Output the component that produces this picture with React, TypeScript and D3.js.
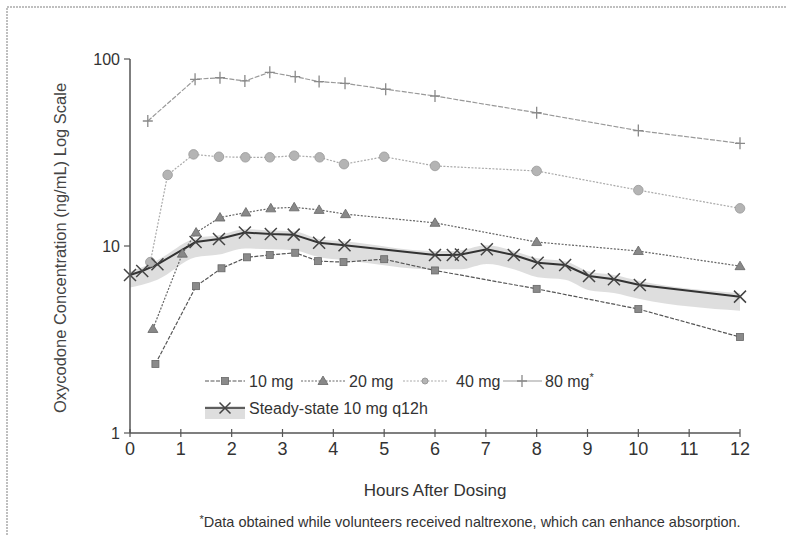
import React from "react";
import * as d3 from "d3";

const hours10 = [0.5, 1.3, 1.8, 2.3, 2.75, 3.25, 3.7, 4.2, 5, 6, 8, 10, 12];
const mg10 = [2.34, 6.1, 7.6, 8.7, 8.95, 9.2, 8.3, 8.2, 8.5, 7.4, 5.9, 4.6, 3.26];

const hours20 = [0.45, 1.03, 1.3, 1.77, 2.28, 2.77, 3.23, 3.72, 4.24, 6, 8, 10, 12];
const mg20 = [3.6, 9.1, 11.8, 14.2, 15.1, 15.9, 16.1, 15.6, 14.8, 13.3, 10.5, 9.4, 7.8];

const hours40 = [0.4, 0.74, 1.25, 1.75, 2.27, 2.75, 3.23, 3.73, 4.21, 5, 6, 8, 10, 12];
const mg40 = [8.2, 24.0, 30.9, 30.0, 29.8, 29.8, 30.4, 29.8, 27.4, 30.0, 26.8, 25.2, 19.9, 15.9];

const hours80 = [0.35, 1.28, 1.77, 2.26, 2.75, 3.25, 3.72, 4.23, 5.03, 6, 8, 10, 12];
const mg80 = [46.6, 77.9, 79.4, 76.3, 84.9, 80.4, 75.7, 74.1, 68.9, 63.4, 51.6, 41.4, 35.4];

const hoursSS = [0, 0.24, 0.54, 1.29, 1.75, 2.26, 2.77, 3.22, 3.72, 4.22, 6, 6.35, 6.51, 7.02, 7.55, 8.02, 8.56, 9.03, 9.52, 10.03, 12];
const ssMean = [7.0, 7.35, 7.98, 10.5, 10.9, 11.8, 11.6, 11.5, 10.4, 10.1, 8.95, 8.95, 9.0, 9.6, 8.95, 8.14, 7.91, 6.91, 6.64, 6.19, 5.36];
const ssHigh = [7.3, 7.7, 8.4, 11.0, 11.4, 12.3, 12.1, 12.0, 10.9, 10.6, 9.4, 9.4, 9.5, 10.1, 9.4, 8.6, 8.3, 7.3, 7.0, 6.5, 5.6];
const ssLow = [6.0, 6.2, 6.6, 8.7, 9.0, 9.7, 9.6, 9.5, 8.7, 8.4, 7.5, 7.5, 7.5, 8.0, 7.5, 6.8, 6.6, 5.8, 5.6, 5.2, 4.5];

const xTicks = [0, 1, 2, 3, 4, 5, 6, 7, 8, 9, 10, 11, 12];
const yTicks = [1, 10, 100];

const FONT = "'Liberation Sans', Arial, sans-serif";

type Pt = [number, number];

function zip(h: number[], v: number[]): Pt[] {
  return h.map((t, i) => [t, v[i]]);
}

export default function App() {
  const x = d3.scaleLinear().domain([0, 12]).range([130, 740]);
  const y = d3.scaleLog().domain([1, 100]).range([433, 59]);

  const line = d3
    .line<Pt>()
    .x((d) => x(d[0]))
    .y((d) => y(d[1]));

  const band = d3
    .area<number>()
    .x((_, i) => x(hoursSS[i]))
    .y0((_, i) => y(ssLow[i]))
    .y1((_, i) => y(ssHigh[i]))
    .curve(d3.curveMonotoneX);

  const d10 = zip(hours10, mg10);
  const d20 = zip(hours20, mg20);
  const d40 = zip(hours40, mg40);
  const d80 = zip(hours80, mg80);
  const dSS = zip(hoursSS, ssMean);

  const square = (cx: number, cy: number, k: string, fill = "#8a8a8a") => (
    <rect key={k} x={cx - 3.5} y={cy - 3.5} width={7} height={7} fill={fill} stroke="#666" strokeWidth={0.8} />
  );
  const tri = (cx: number, cy: number, k: string) => (
    <path key={k} d={`M${cx},${cy - 5}L${cx + 5},${cy + 3.5}L${cx - 5},${cy + 3.5}Z`} fill="#888" stroke="#666" strokeWidth={0.8} />
  );
  const circ = (cx: number, cy: number, k: string) => (
    <circle key={k} cx={cx} cy={cy} r={4.8} fill="#b4b4b4" stroke="#999" strokeWidth={0.8} />
  );
  const plus = (cx: number, cy: number, k: string) => (
    <path key={k} d={`M${cx - 5},${cy}H${cx + 5}M${cx},${cy - 6}V${cy + 6}`} stroke="#8a8a8a" strokeWidth={1.3} fill="none" />
  );
  const cross = (cx: number, cy: number, k: string, s = 6) => (
    <path key={k} d={`M${cx - s},${cy - s}L${cx + s},${cy + s}M${cx - s},${cy + s}L${cx + s},${cy - s}`} stroke="#444" strokeWidth={1.5} fill="none" />
  );

  const legY1 = 381;
  const legY2 = 408;

  return (
    <svg width={786} height={535} style={{ position: "absolute", left: 0, top: 0, background: "#fff" }} fontFamily={FONT}>
      {/* frame */}
      <path d="M7,535V7H786" fill="none" stroke="#aaa" strokeWidth={1.5} strokeDasharray="2,1" />

      {/* steady-state band */}
      <path d={band(hoursSS) || ""} fill="#dadada" opacity={0.9} />

      {/* series lines */}
      <path d={line(d80) || ""} fill="none" stroke="#999" strokeWidth={1.2} strokeDasharray="5,1.5" />
      <path d={line(d40) || ""} fill="none" stroke="#aaa" strokeWidth={1.2} strokeDasharray="2,1.5" />
      <path d={line(d20) || ""} fill="none" stroke="#666" strokeWidth={1.2} strokeDasharray="2,1.5" />
      <path d={line(d10) || ""} fill="none" stroke="#555" strokeWidth={1.2} strokeDasharray="4,1.5" />
      <path d={line(dSS) || ""} fill="none" stroke="#333" strokeWidth={2} />

      {/* markers */}
      {d80.map((d, i) => plus(x(d[0]), y(d[1]), "p" + i))}
      {d40.map((d, i) => circ(x(d[0]), y(d[1]), "c" + i))}
      {d20.map((d, i) => tri(x(d[0]), y(d[1]), "t" + i))}
      {d10.map((d, i) => square(x(d[0]), y(d[1]), "s" + i))}
      {dSS.map((d, i) => cross(x(d[0]), y(d[1]), "x" + i))}

      {/* axes */}
      <line x1={x(0)} x2={x(0)} y1={y(100)} y2={y(1)} stroke="#555" strokeWidth={1.5} />
      <line x1={x(0)} x2={x(12)} y1={y(1)} y2={y(1)} stroke="#555" strokeWidth={1.5} />
      {yTicks.map((t) => (
        <g key={"yt" + t}>
          <line x1={x(0) - 6} x2={x(0)} y1={y(t)} y2={y(t)} stroke="#555" strokeWidth={1.2} />
          <text x={x(0) - 10} y={y(t)} dy="0.35em" textAnchor="end" fontSize={16} fill="#333">
            {t}
          </text>
        </g>
      ))}
      {xTicks.map((t) => (
        <g key={"xt" + t}>
          <line x1={x(t)} x2={x(t)} y1={y(1) - 4} y2={y(1) + 4} stroke="#555" strokeWidth={1.2} />
          <text x={x(t)} y={y(1) + 22} textAnchor="middle" fontSize={18} fill="#333">
            {t}
          </text>
        </g>
      ))}

      <text x={435} y={496} textAnchor="middle" fontSize={17} fill="#333">
        Hours After Dosing
      </text>
      <text transform={`translate(66,248) rotate(-90)`} textAnchor="middle" fontSize={16.5} fill="#444">
        Oxycodone Concentration (ng/mL) Log Scale
      </text>
      <text x={470} y={527} textAnchor="middle" fontSize={14.5} fill="#333">
        <tspan fontSize={11} dy="-4">*</tspan>
        <tspan dy="4">Data obtained while volunteers received naltrexone, which can enhance absorption.</tspan>
      </text>

      {/* legend */}
      <g fontSize={16} fill="#333">
        <line x1={205} x2={245} y1={legY1} y2={legY1} stroke="#555" strokeDasharray="4,1.5" />
        {square(225, legY1, "ls", "#8a8a8a")}
        <text x={249} y={legY1} dy="0.35em">10 mg</text>

        <line x1={301} x2={346} y1={legY1} y2={legY1} stroke="#666" strokeDasharray="2,1.5" />
        {tri(323, legY1, "lt")}
        <text x={349} y={legY1} dy="0.35em">20 mg</text>

        <line x1={403} x2={447} y1={legY1} y2={legY1} stroke="#aaa" strokeDasharray="2,1.5" />
        <circle cx={425} cy={legY1} r={3} fill="#b4b4b4" stroke="#999" />
        <text x={456} y={legY1} dy="0.35em">40 mg</text>

        <line x1={503} x2={542} y1={legY1} y2={legY1} stroke="#999" />
        {plus(522, legY1, "lp")}
        <text x={545} y={legY1} dy="0.35em">80 mg<tspan fontSize={11} dy="-6">*</tspan></text>

        <rect x={205} y={legY2 - 2} width={40} height={13} fill="#dadada" opacity={0.9} />
        <line x1={205} x2={245} y1={legY2} y2={legY2} stroke="#333" strokeWidth={1.5} />
        {cross(225, legY2, "lx", 5.5)}
        <text x={249} y={legY2} dy="0.35em">Steady-state 10 mg q12h</text>
      </g>
    </svg>
  );
}
